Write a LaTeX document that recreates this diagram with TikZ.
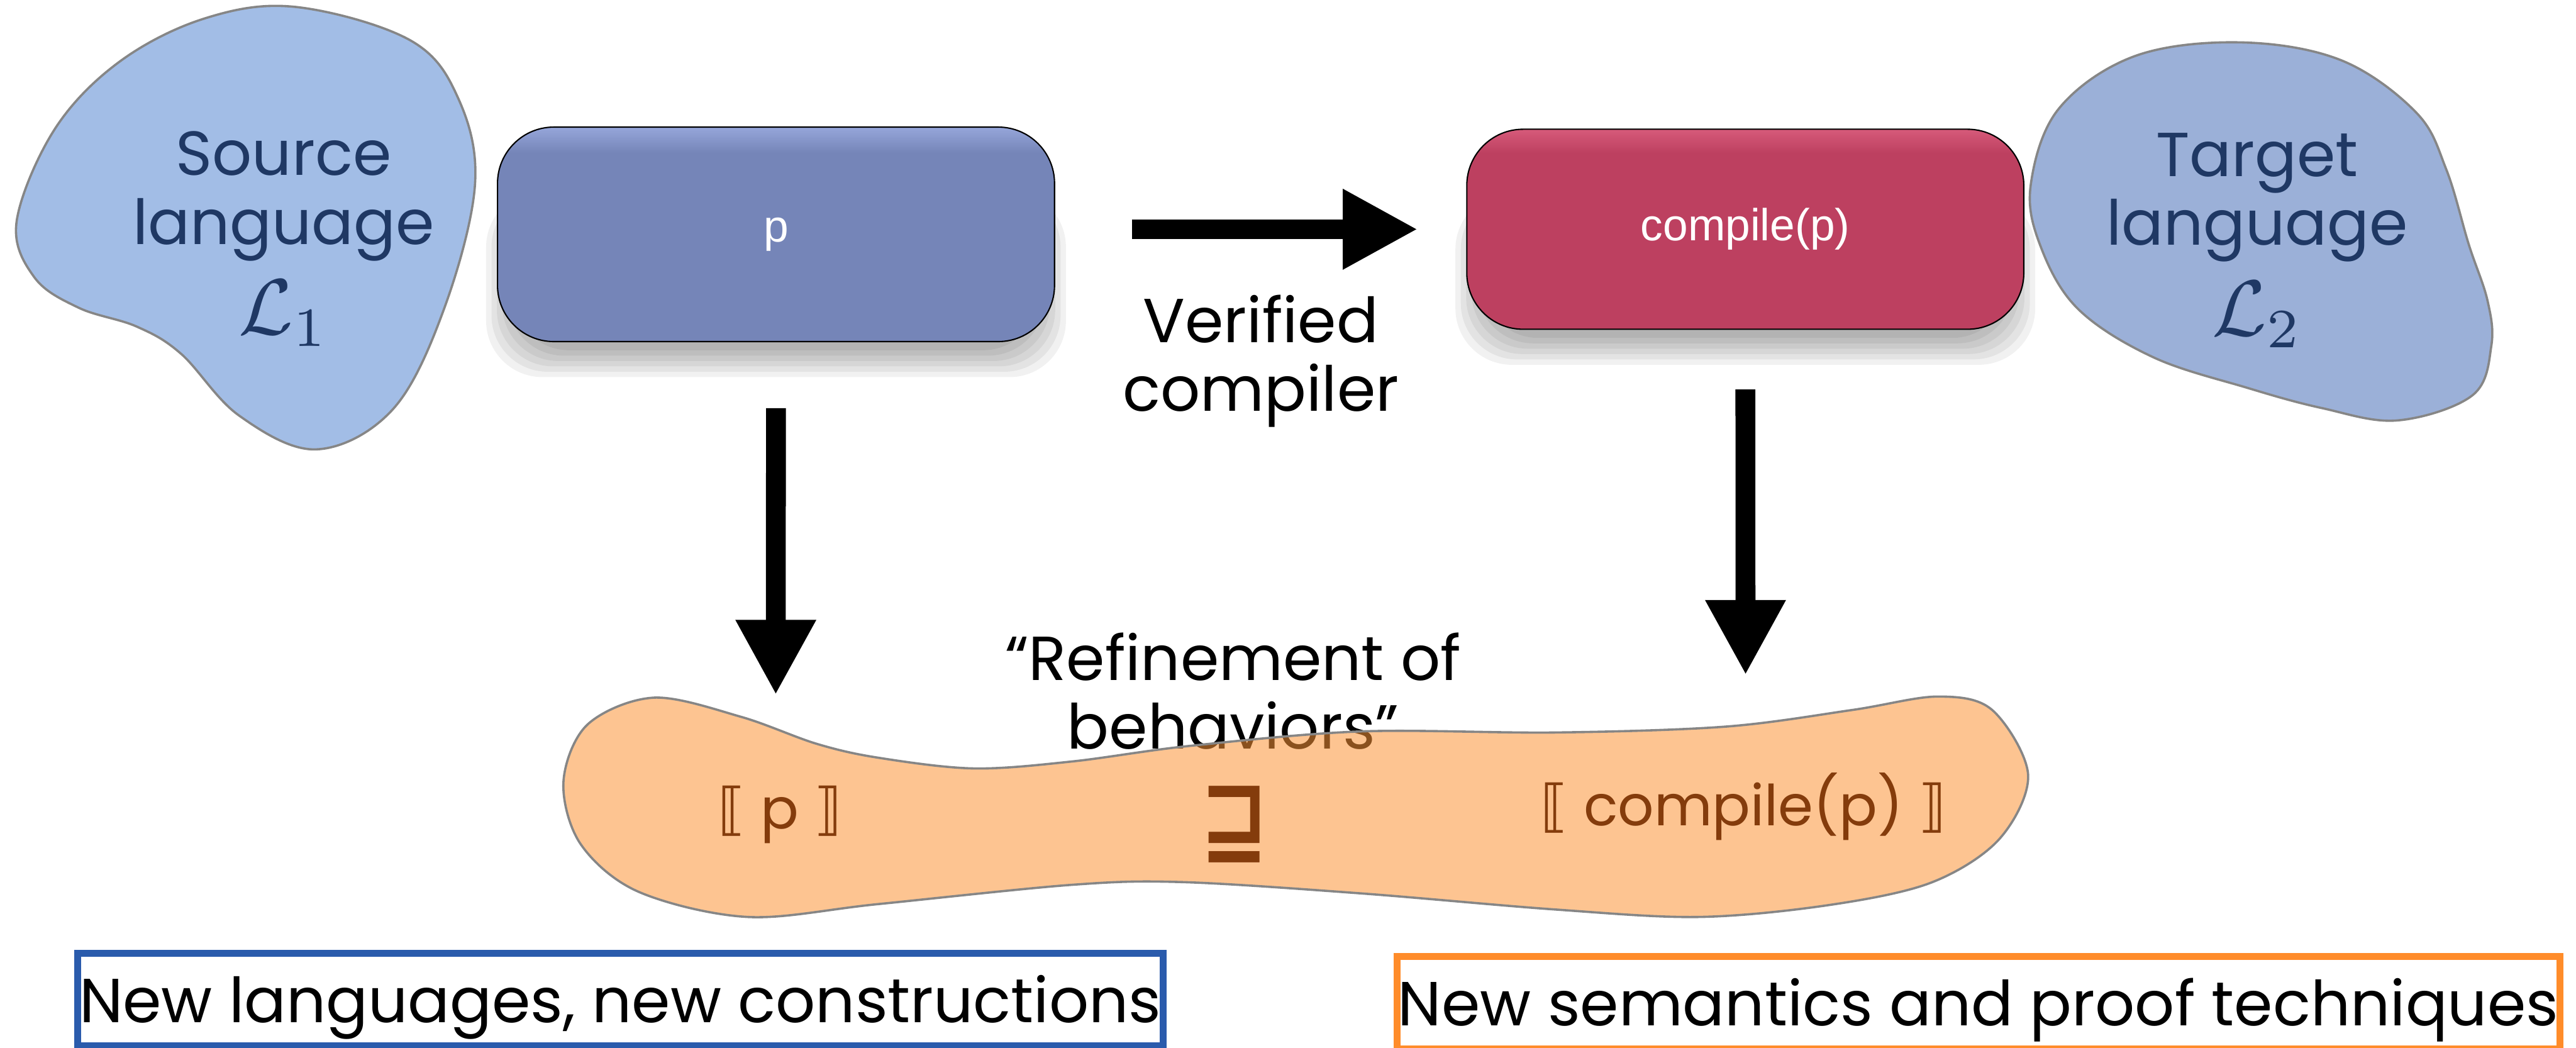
\documentclass[tikz,border=0pt]{standalone}
\usepackage{fontspec}
\setmainfont{Poppins}
\newfontfamily\boxfont{Liberation Sans}
\newfontfamily\symfont{DejaVu Sans}
\usepackage{graphicx}
\usetikzlibrary{arrows.meta,backgrounds}

\definecolor{srcblue}{RGB}{162,189,230}
\definecolor{tgtblue}{RGB}{155,176,216}
\definecolor{blobedge}{RGB}{134,134,134}
\definecolor{langtext}{RGB}{31,56,100}
\definecolor{progblue}{RGB}{117,133,184}
\definecolor{progtop}{RGB}{150,166,218}
\definecolor{comprose}{RGB}{189,64,96}
\definecolor{comptop}{RGB}{214,90,122}
\definecolor{semorange}{RGB}{253,148,55}
\definecolor{semtext}{RGB}{132,60,12}
\definecolor{boxblue}{RGB}{42,91,172}
\definecolor{boxorange}{RGB}{255,140,42}

\pgfdeclareverticalshading{progshade}{100bp}{color(0bp)=(progblue); color(25bp)=(progblue);
  color(69bp)=(progblue); color(75bp)=(progtop); color(100bp)=(progtop)}
\pgfdeclareverticalshading{compshade}{100bp}{color(0bp)=(comprose); color(25bp)=(comprose);
  color(69bp)=(comprose); color(75bp)=(comptop); color(100bp)=(comptop)}

\tikzset{
    blob/.style={draw=blobedge,line width=1.2pt},
    langname/.style={align=center,anchor=base,text=langtext,font=\fontsize{33}{36.6}\selectfont},
    codebox/.style={rounded corners=10.5mm,draw=black,line width=0.7pt,minimum width=10.39cm,
        text=white,font=\boxfont\fontsize{23.8}{28}\selectfont},
    softshadow/.style={black,opacity=0.055,rounded corners=10.5mm},
    caption/.style={align=center,anchor=base,font=\fontsize{33}{36.6}\selectfont},
    semname/.style={anchor=base,text=semtext,font=\fontsize{30}{33}\selectfont},
    fatarrow/.style={line width=3.7mm,arrows={-Triangle[length=14mm,width=14mm]}},
    goalbox/.style={draw,line width=1.3mm,minimum height=1.73cm,text height=0.85cm,text depth=0cm,
        inner sep=0pt,font=\fontsize{33}{36.6}\selectfont},
}
\newcommand{\langsym}[1]{{\fontsize{10}{12}\selectfont\scalebox{4.2}{$\mathcal{L}_{#1}$}}}

\begin{document}
\begin{tikzpicture}
	\path[use as bounding box] (0,0) rectangle (48.05,-19.54);

	% the two languages
	\draw[blob,fill=srcblue] plot[smooth cycle,tension=0.6] coordinates {
		(5.52,-0.13) (3.83,-0.34) (2.23,-1.15) (1.02,-2.41) (0.31,-4.13) (0.64,-5.17)
		(1.47,-5.74) (2.55,-6.09) (3.38,-6.60) (4.46,-7.75) (5.90,-8.38) (7.33,-7.63)
		(8.29,-5.74) (8.86,-3.44) (8.55,-1.84) (7.65,-0.75)};
	\draw[blob,fill=tgtblue] plot[smooth cycle,tension=0.6] coordinates {
		(37.88,-3.44) (38.40,-2.03) (39.81,-1.05) (41.77,-0.79) (43.66,-1.12) (45.07,-2.10)
		(45.63,-3.16) (46.05,-4.56) (46.40,-5.61) (46.47,-6.45) (46.12,-7.37) (44.72,-7.84)
		(43.31,-7.61) (41.91,-7.23) (40.16,-6.66) (38.75,-5.75) (38.05,-4.56)};
	\node[langname] (src) at (5.29,-6.24) {Source\\language\\[3.3mm]\langsym{1}};
	\node[langname] (tgt) at (42.10,-6.26) {Target\\language\\[3.3mm]\langsym{2}};

	% programs
	\node[codebox,shade,shading=progshade,minimum height=4cm] (prog) at (14.475,-4.37) {p};
	\node[codebox,shade,shading=compshade,minimum height=3.73cm] (comp) at (32.555,-4.275) {compile(p)};

	\draw[fatarrow,shorten <=14.3mm,shorten >=9mm] (prog.east |- comp.west) -- (comp.west);
	\node[caption] (verif) at (23.52,-7.67) {Verified\\compiler};

	% behaviours
	\node[caption] (refnote) at (23.00,-13.97) {“Refinement of\\behaviors”};
	\draw[blob,fill=semorange,fill opacity=0.55] plot[smooth cycle,tension=0.55] coordinates {
		(12.20,-13.01) (13.83,-13.37) (15.23,-13.87) (16.38,-14.13) (18.16,-14.33) (20.00,-14.20)
		(22.19,-13.91) (25.38,-13.64) (29.00,-13.66) (32.19,-13.55) (34.55,-13.24) (36.14,-12.99)
		(37.16,-13.24) (37.83,-14.45) (37.29,-15.65) (36.02,-16.46) (34.10,-16.88) (31.68,-17.10)
		(29.00,-16.96) (25.38,-16.66) (22.06,-16.45) (20.00,-16.50) (16.38,-16.86) (13.95,-17.10)
		(11.91,-16.63) (10.83,-15.74) (10.51,-14.58) (10.96,-13.51)};
	\node[semname] (semp) at (14.55,-15.45) {{\symfont ⟦} p {\symfont ⟧}};
	\node[semname] (semc) at (32.52,-15.40) {{\symfont ⟦} compile(p) {\symfont ⟧}};
	\node[text=semtext,font=\symfont\bfseries\fontsize{52}{55}\selectfont] (refines) at (23.02,-15.37)
		{\scalebox{0.83}[1]{⊒}};

	\coordinate (ptip) at (14.47,-12.96);
	\coordinate (ctip) at (32.56,-12.59);
	\draw[fatarrow,shorten <=12.3mm] (prog.south) -- (ptip);
	\draw[fatarrow,shorten <=11.1mm] (comp.south) -- (ctip);

	% what each side brings
	\node[goalbox,draw=boxblue,minimum width=20.25cm] (newlang) at (11.57,-18.64)
		{New languages, new constructions};
	\node[goalbox,draw=boxorange,minimum width=21.69cm] (newsem) at (36.90,-18.70)
		{New semantics and proof techniques};

	\begin{scope}[on background layer]
		\fill[white] (0,0) rectangle (48.05,-19.54);
		% soft shadow under both program boxes
		\foreach \r in {0,1,...,5} {
			\fill[softshadow] ([shift={(3mm-\r mm,-1.5mm-\r mm)}]prog.south west)
				rectangle ([shift={(-3mm+\r mm,-12mm)}]prog.north east);
			\fill[softshadow] ([shift={(3mm-\r mm,-1.5mm-\r mm)}]comp.south west)
				rectangle ([shift={(-3mm+\r mm,-12mm)}]comp.north east);
		}
	\end{scope}
\end{tikzpicture}
\end{document}
